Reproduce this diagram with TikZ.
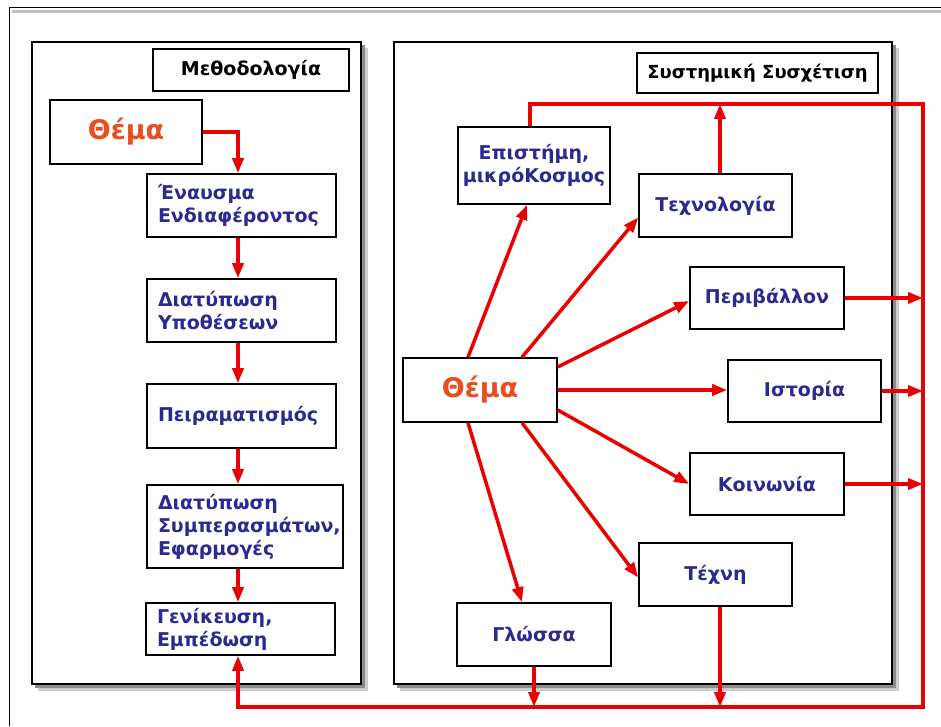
\documentclass[tikz,border=0pt]{standalone}
\usepackage{fontspec}
\setmainfont{DejaVu Sans}
\usetikzlibrary{arrows.meta}
\definecolor{rred}{RGB}{235,0,0}
\definecolor{tblue}{RGB}{42,42,145}
\definecolor{torange}{RGB}{232,78,30}
\begin{document}
\begin{tikzpicture}[x=1pt,y=-1pt,
  box/.style={draw=black, line width=1.6pt, fill=white, inner sep=0pt,
    font=\bfseries\fontsize{19}{23}\selectfont, text=tblue, align=center},
  lbox/.style={box, align=left, inner xsep=11pt},
  titlebox/.style={box, text=black},
  bigbox/.style={box, text=torange, font=\bfseries\fontsize{27}{30}\selectfont},
  rline/.style={draw=rred, line width=3.5pt, line join=miter},
  rarrow/.style={rline, -{Triangle[length=15pt,width=11pt]}},
  panel/.style={draw=black, line width=1.6pt, fill=white},
  shadowA/.style={fill=black!20, draw=none},
  shadowB/.style={fill=black!45, draw=none},
]
\useasboundingbox (0,0) rectangle (941,726);
% outer frame
\draw[black!25, line width=3pt] (12,11) -- (941,11);
\draw[black, line width=1pt] (9,726) -- (9,7) -- (941,7);

% panels with shadows
\fill[shadowA] (38,48) rectangle (368,691);
\fill[shadowB] (35,45) rectangle (365,688);
\draw[panel] (32,42) rectangle (361,684);
\fill[shadowA] (400,48) rectangle (899,691);
\fill[shadowB] (397,45) rectangle (896,688);
\draw[panel] (394,42) rectangle (892,684);

% left panel
\node[titlebox, minimum width=196pt, minimum height=42pt] (title1) at (251,70) {Μεθοδολογία};
\node[bigbox, minimum width=152pt, minimum height=64pt] (thema1) at (126,132) {Θέμα};
\node[lbox, minimum width=189pt, text width=167pt, minimum height=63pt] (enausma) at (241.5,205.5) {Έναυσμα\\Ενδιαφέροντος};
\node[lbox, minimum width=189pt, text width=167pt, minimum height=63pt] (ypoth) at (241.5,310.5) {Διατύπωση\\Υποθέσεων};
\node[lbox, minimum width=189pt, text width=167pt, minimum height=64pt] (peir) at (241.5,416) {Πειραματισμός};
\node[lbox, minimum width=196pt, text width=174pt, minimum height=83pt] (sympe) at (245,526.5) {Διατύπωση\\Συμπερασμάτων,\\Εφαρμογές};
\node[lbox, minimum width=189pt, text width=167pt, minimum height=52pt] (genik) at (240.5,629) {Γενίκευση,\\Εμπέδωση};

\draw[rarrow] (thema1.east) -| ([xshift=-3.5pt]enausma.north);
\draw[rarrow] ([xshift=-3.5pt]enausma.south) -- ([xshift=-3.5pt]ypoth.north);
\draw[rarrow] ([xshift=-3.5pt]ypoth.south) -- ([xshift=-3.5pt]peir.north);
\draw[rarrow] ([xshift=-3.5pt]peir.south) -- ([xshift=-7pt]sympe.north);
\draw[rarrow] ([xshift=-7pt]sympe.south) -- ([xshift=-2.5pt]genik.north);

% right panel
\node[titlebox, minimum width=241pt, minimum height=40pt, font=\bfseries\fontsize{18}{22}\selectfont] (title2) at (757.5,73) {Συστημική Συσχέτιση};
\node[box, minimum width=152pt, minimum height=77pt] (epist) at (534,165.5) {Επιστήμη,\\μικρόΚοσμος};
\node[box, minimum width=153pt, minimum height=63pt] (techno) at (715.5,205.5) {Τεχνολογία};
\node[box, minimum width=154pt, minimum height=62pt] (periv) at (767,298) {Περιβάλλον};
\node[box, minimum width=153pt, minimum height=62pt] (istor) at (804.5,391) {Ιστορία};
\node[box, minimum width=154pt, minimum height=62pt] (koin) at (767,484) {Κοινωνία};
\node[box, minimum width=153pt, minimum height=63pt] (techni) at (715.5,574.5) {Τέχνη};
\node[box, minimum width=154pt, minimum height=63pt] (gloss) at (534,634.5) {Γλώσσα};
\node[bigbox, minimum width=154pt, minimum height=64pt] (thema2) at (480,390) {Θέμα};

\coordinate (TR) at (923,104);
\coordinate (BR) at (923,707);

% spokes
\draw[rarrow] ([xshift=-12pt]thema2.north) -- ([xshift=-7pt]epist.south);
\draw[rarrow] ([xshift=42pt]thema2.north) -- ([yshift=-12pt]techno.west);
\draw[rarrow] ([yshift=23pt]thema2.east) -- ([yshift=-3pt]periv.west);
\draw[rarrow] (thema2.east) -- (thema2.east -| istor.west);
\draw[rarrow] ([yshift=-20pt]thema2.east) -- (koin.west);
\draw[rarrow] ([xshift=42pt]thema2.south) -- ([yshift=-3pt]techni.west);
\draw[rarrow] ([xshift=-12pt]thema2.south) -- ([xshift=-12pt]gloss.north);

% feedback loop
\draw[rarrow] ([xshift=-4pt]epist.north) |- (TR) -- (BR) -| ([xshift=-2.5pt]genik.south);
\draw[rarrow] ([xshift=4.5pt]techno.north) -- ([xshift=4.5pt]techno.north |- TR);
\draw[rarrow] (periv.east) -- (periv.east -| TR);
\draw[rarrow] (istor.east) -- (istor.east -| TR);
\draw[rarrow] (koin.east) -- (koin.east -| TR);
\draw[rarrow] ([xshift=4.5pt]techni.south) -- ([xshift=4.5pt]techni.south |- BR);
\draw[rarrow] (gloss.south) -- (gloss.south |- BR);
\end{tikzpicture}
\end{document}
